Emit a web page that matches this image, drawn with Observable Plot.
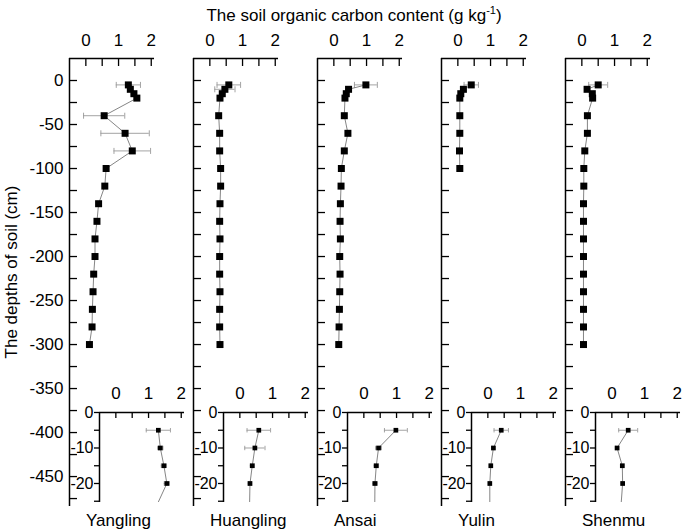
<!DOCTYPE html>
<html><head><meta charset="utf-8">
<script src="https://cdn.jsdelivr.net/npm/d3@7"></script>
<script src="https://cdn.jsdelivr.net/npm/@observablehq/plot@0.6"></script>
<style>
html,body{margin:0;padding:0;background:#fff;}
#chart{position:relative;width:685px;height:532px;overflow:hidden;font-family:"Liberation Sans",Arial,sans-serif;color:#000;}
#chart svg{position:absolute;overflow:visible;}
.lbl{position:absolute;font-size:17px;line-height:20px;white-space:nowrap;}
.lbl sup{font-size:11px;vertical-align:7px;line-height:0;}
</style></head><body><div id="chart"></div>
<script>
// ---------- data ----------
const sites = ["Yangling", "Huangling", "Ansai", "Yulin", "Shenmu"];
const depths = [-5, -10, -15, -20, -40, -60, -80, -100, -120, -140, -160, -180, -200, -220, -240, -260, -280, -300];

const yanglingSOC = [1.30, 1.36, 1.47, 1.56, 0.56, 1.20, 1.42, 0.62, 0.58, 0.39, 0.34, 0.28, 0.28, 0.24, 0.22, 0.20, 0.19, 0.11];
const yanglingErr = [0.37, 0.08, 0.08, 0.08, 0.63, 0.74, 0.56, 0.05, 0.05, 0.04, 0.04, 0.03, 0.03, 0.03, 0.03, 0.03, 0.03, 0.03];

const huanglingSOC = [0.58, 0.46, 0.38, 0.31, 0.27, 0.30, 0.30, 0.33, 0.33, 0.31, 0.30, 0.31, 0.30, 0.30, 0.31, 0.30, 0.30, 0.31];
const huanglingErr = [0.36, 0.31, 0.06, 0.05, 0.04, 0.04, 0.04, 0.04, 0.04, 0.03, 0.03, 0.03, 0.03, 0.03, 0.03, 0.03, 0.03, 0.03];

const ansaiSOC = [0.98, 0.45, 0.38, 0.34, 0.32, 0.43, 0.32, 0.23, 0.22, 0.20, 0.19, 0.20, 0.18, 0.19, 0.18, 0.17, 0.16, 0.15];
const ansaiErr = [0.35, 0.09, 0.07, 0.07, 0.04, 0.04, 0.04, 0.03, 0.03, 0.03, 0.03, 0.03, 0.03, 0.03, 0.03, 0.03, 0.03, 0.03];

const yulinSOC = [0.41, 0.17, 0.09, 0.06, 0.06, 0.06, 0.05, 0.06];
const yulinErr = [0.22, 0.04, 0.03, 0.03, 0.02, 0.02, 0.02, 0.02];

const shenmuSOC = [0.50, 0.16, 0.32, 0.33, 0.17, 0.17, 0.09, 0.06, 0.06, 0.05, 0.05, 0.05, 0.05, 0.05, 0.05, 0.05, 0.05, 0.05];
const shenmuErr = [0.29, 0.05, 0.05, 0.04, 0.03, 0.03, 0.02, 0.02, 0.02, 0.02, 0.02, 0.02, 0.02, 0.02, 0.02, 0.02, 0.02, 0.02];

const xTicks = [0, 0.5, 1, 1.5, 2];
const xTickLabels = [0, 1, 2];
const yTicks = [0, -25, -50, -75, -100, -125, -150, -175, -200, -225, -250, -275, -300, -325, -350, -375, -400, -425, -450, -475];
const yTickLabels = [0, -50, -100, -150, -200, -250, -300, -350, -400, -450];
const insetYTicks = [0, -5, -10, -15, -20, -25];
const insetYTickLabels = [0, -10, -20];

const titleText = "The soil organic carbon content (g kg";
const yTitle = "The depths of soil (cm)";

// ---------- layout ----------
const FONT = '"Liberation Sans", Arial, sans-serif';
const K = 32.7;               // px per g/kg
const X_DOMAIN = [-0.5, 2.1];
const PW = (X_DOMAIN[1] - X_DOMAIN[0]) * K;
const MAIN_TOP = 58, MAIN_BOTTOM = 506;
const Y_DOMAIN = [-484, 25];
const INSET_TOP = 411.7, INSET_BOTTOM = 501.7;
const INSET_Y_DOMAIN = [-25.35, 0];
const X0 = [85, 209, 333, 457, 581];
const INSET_SHIFT = 30.5;

const chart = document.getElementById("chart");
const series = [
  [yanglingSOC, yanglingErr],
  [huanglingSOC, huanglingErr],
  [ansaiSOC, ansaiErr],
  [yulinSOC, yulinErr],
  [shenmuSOC, shenmuErr]
];

const cap = h => ({draw(ctx) { ctx.moveTo(0, -h); ctx.lineTo(0, h); }});

function makePanel(rows, opts) {
  const {x0, top, bottom, yDomain, ticksY, labelsY, tickSizeY, showLabelsY, labelSizeY, sq, capH, clip, topTick, topPad} = opts;
  const ML = 60, MT = 45, MR = 10, MB = 10;
  const PH = bottom - top;
  const svg = Plot.plot({
    width: ML + PW + MR, height: MT + PH + MB,
    marginLeft: ML, marginRight: MR, marginTop: MT, marginBottom: MB,
    x: {domain: X_DOMAIN, axis: null, label: null},
    y: {domain: yDomain, axis: null, label: null},
    style: {background: "transparent", overflow: "visible", fontFamily: FONT, fontSize: "17px", color: "black"},
    marks: [
      Plot.ruleY(rows, {y: "depth", x1: d => d.soc - d.err, x2: d => d.soc + d.err, stroke: "#999", strokeWidth: 0.9, clip}),
      Plot.dot(rows, {x: d => d.soc - d.err, y: "depth", symbol: cap(capH), fill: "none", stroke: "#999", strokeWidth: 0.9, clip}),
      Plot.dot(rows, {x: d => d.soc + d.err, y: "depth", symbol: cap(capH), fill: "none", stroke: "#999", strokeWidth: 0.9, clip}),
      Plot.line(rows, {x: "soc", y: "depth", stroke: "#666", strokeWidth: 0.8, clip}),
      Plot.dot(rows, {x: "soc", y: "depth", symbol: "square", r: sq / Math.sqrt(Math.PI), fill: "black", stroke: "none", clip}),
      Plot.ruleX([X_DOMAIN[0]], {stroke: "black", strokeWidth: 1.5}),
      Plot.ruleY([yDomain[1]], {stroke: "black", strokeWidth: 1.5}),
      Plot.axisX(xTicks, {anchor: "top", tickSize: -topTick, tickFormat: () => "", strokeWidth: 1.3, label: null}),
      Plot.axisX(xTickLabels, {anchor: "top", tickSize: 0, tickPadding: topPad, fontSize: 17, fontFamily: FONT, tickFormat: d => String(d), label: null}),
      Plot.axisY(ticksY, {anchor: "left", tickSize: tickSizeY, tickFormat: () => "", strokeWidth: 1.3, label: null}),
      showLabelsY ? Plot.axisY(labelsY, {anchor: "left", tickSize: 0, tickPadding: tickSizeY > 0 ? tickSizeY + 1 : 6, fontSize: labelSizeY, fontFamily: FONT, tickFormat: d => String(d), label: null}) : null
    ]
  });
  svg.style.left = (x0 + X_DOMAIN[0] * K - ML) + "px";
  svg.style.top = (top - MT) + "px";
  chart.appendChild(svg);
}

sites.forEach((name, i) => {
  const [soc, err] = series[i];
  const rows = soc.map((v, j) => ({depth: depths[j], soc: v, err: err[j]}));
  makePanel(rows, {
    x0: X0[i], top: MAIN_TOP, bottom: MAIN_BOTTOM, yDomain: Y_DOMAIN,
    ticksY: yTicks, labelsY: yTickLabels, tickSizeY: -8, showLabelsY: i === 0, labelSizeY: 17,
    sq: 7, capH: 3, clip: false, topTick: 7, topPad: 12
  });
  makePanel(rows, {
    x0: X0[i] + INSET_SHIFT, top: INSET_TOP, bottom: INSET_BOTTOM, yDomain: INSET_Y_DOMAIN,
    ticksY: insetYTicks, labelsY: insetYTickLabels, tickSizeY: 5, showLabelsY: true, labelSizeY: 16,
    sq: 4.7, capH: 2.2, clip: true, topTick: 5, topPad: 13
  });
  const lab = document.createElement("div");
  lab.className = "lbl";
  lab.textContent = name;
  lab.style.left = (X0[i] + 1) + "px";
  lab.style.top = "511px";
  chart.appendChild(lab);
});

const t = document.createElement("div");
t.className = "lbl";
t.innerHTML = titleText + "<sup>-1</sup>)";
t.style.left = "354px";
t.style.top = "6px";
t.style.transform = "translateX(-50%)";
chart.appendChild(t);

const yt = document.createElement("div");
yt.className = "lbl";
yt.textContent = yTitle;
yt.style.left = "12px";
yt.style.top = "272px";
yt.style.transform = "translate(-50%,-50%) rotate(-90deg)";
chart.appendChild(yt);
</script></body></html>
